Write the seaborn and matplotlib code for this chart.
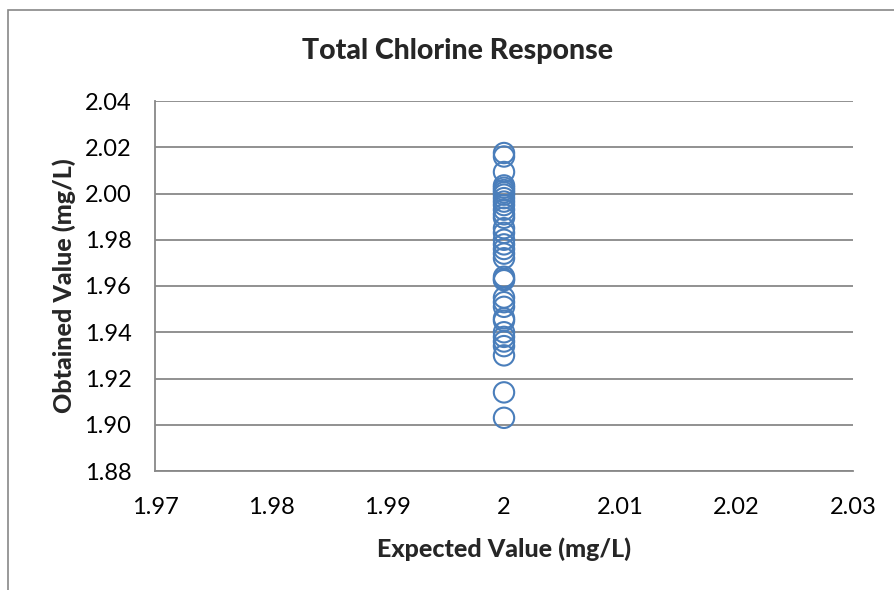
import matplotlib
matplotlib.use("Agg")
import matplotlib.pyplot as plt
import seaborn as sns
import pandas as pd
from matplotlib.patches import Rectangle

# readings (mg/L)
obtained = [2.0175, 2.0160, 2.0093, 2.0035, 2.0025, 2.0015, 2.0005, 1.9995,
            1.9980, 1.9965, 1.9950, 1.9930, 1.9910, 1.9895, 1.9850, 1.9830,
            1.9800, 1.9780, 1.9760, 1.9740, 1.9720, 1.9640, 1.9630, 1.9625,
            1.9550, 1.9530, 1.9510, 1.9460, 1.9450, 1.9400, 1.9380, 1.9360,
            1.9340, 1.9300, 1.9140, 1.9030]
expected = [2.0] * len(obtained)

x_ticks = [1.97, 1.98, 1.99, 2.00, 2.01, 2.02, 2.03]
x_labels = ["1.97", "1.98", "1.99", "2", "2.01", "2.02", "2.03"]
y_ticks = [1.88, 1.90, 1.92, 1.94, 1.96, 1.98, 2.00, 2.02, 2.04]

df = pd.DataFrame({"expected": expected, "obtained": obtained})

sns.set_style("white")
plt.rcParams["font.family"] = ["Lato", "DejaVu Sans"]

fig = plt.figure(figsize=(8.94, 5.90), dpi=100)
# outer chart frame
fig.patches.append(Rectangle((8 / 894, -0.1), 1.2, 1.1 - 10 / 590,
                             transform=fig.transFigure, fill=False,
                             edgecolor="#888888", linewidth=1.2))
ax = fig.add_axes([155 / 894, 1 - 471 / 590, (853 - 155) / 894, (471 - 101) / 590])

sns.scatterplot(data=df, x="expected", y="obtained", ax=ax, marker="o",
                s=215, facecolors="none", edgecolor="#4A7EBB", linewidth=1.5)

ax.set_xlim(1.97, 2.03)
ax.set_ylim(1.88, 2.04)
ax.set_xticks(x_ticks)
ax.set_xticklabels(x_labels)
ax.set_yticks(y_ticks)
ax.set_yticklabels([f"{v:.2f}" for v in y_ticks])
ax.yaxis.grid(True, color="#888888", linewidth=1.3)
ax.xaxis.grid(False)
ax.set_axisbelow(True)

for s in ["top", "right"]:
    ax.spines[s].set_visible(False)
for s in ["left", "bottom"]:
    ax.spines[s].set_color("#888888")
    ax.spines[s].set_linewidth(1.3)

ax.tick_params(axis="both", which="major", direction="out", length=7,
               width=1.3, color="#888888", labelsize=17, labelcolor="black")
ax.tick_params(axis="x", pad=12)
ax.tick_params(axis="y", pad=10)

# title is centred on the whole chart frame, not the plot area
fig.text(458 / 894, 1 - 51 / 590, "Total Chlorine Response", fontsize=20.5,
         fontweight="black", ha="center", va="center")
ax.set_xlabel("Expected Value (mg/L)", fontsize=18, fontweight="black", labelpad=14)
ax.set_ylabel("Obtained Value (mg/L)", fontsize=18, fontweight="black", labelpad=6)

fig.savefig("out.png", dpi=100)
